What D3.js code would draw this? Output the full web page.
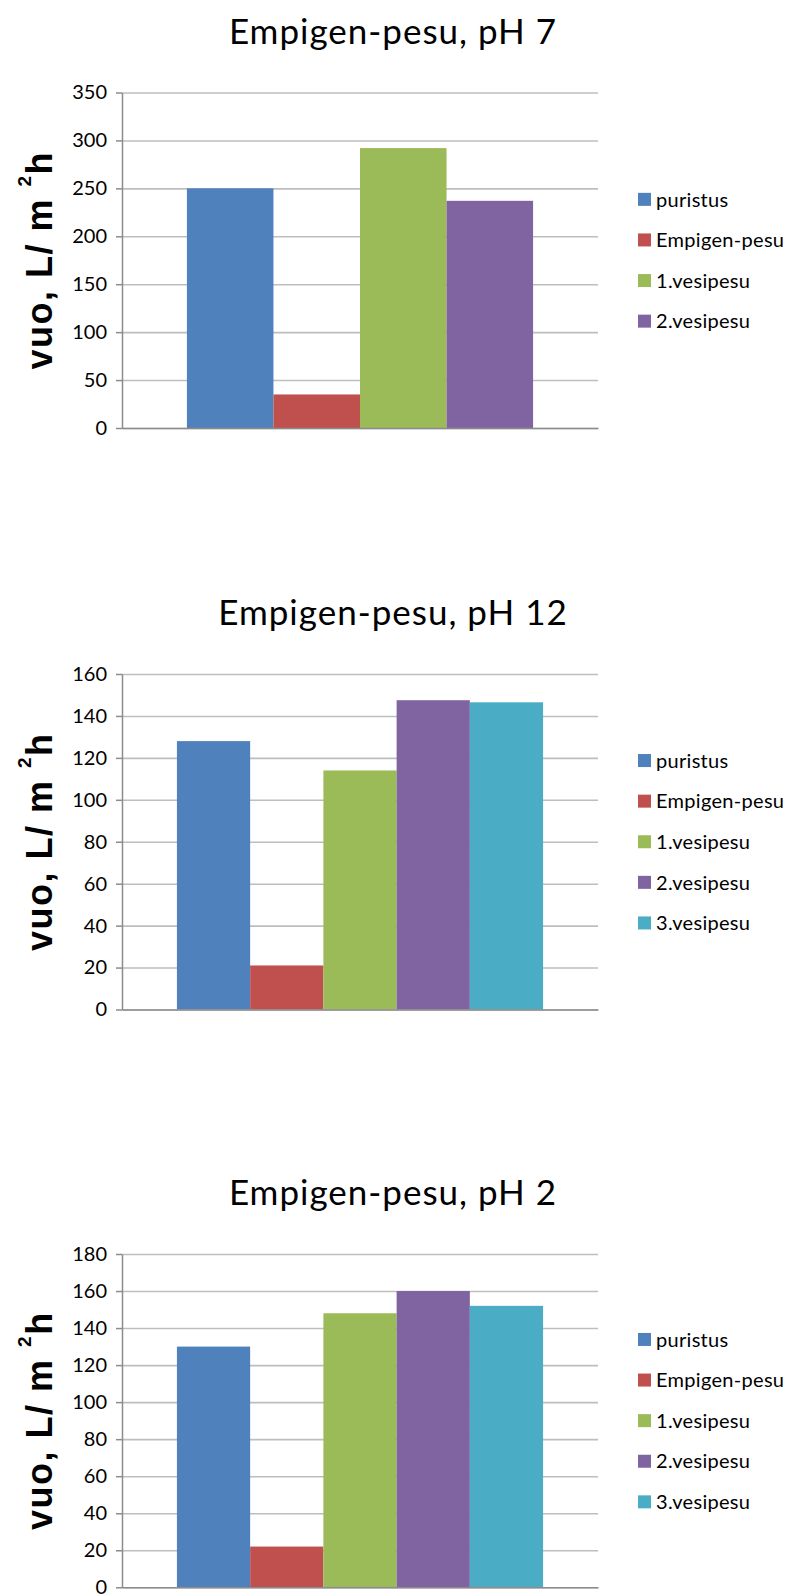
<!DOCTYPE html>
<html>
<head>
<meta charset="utf-8">
<script src="https://cdn.jsdelivr.net/npm/d3@7"></script>
<style>
  body { margin: 0; background: #fff; }
  svg { display: block; }
</style>
</head>
<body>
<div id="viz"></div>
<script>
const width = 788;
const height = 1596;

// data
const seriesNames = ["puristus", "Empigen-pesu", "1.vesipesu", "2.vesipesu", "3.vesipesu"];
const chartTitles = ["Empigen-pesu, pH 7", "Empigen-pesu, pH 12", "Empigen-pesu, pH 2"];
const valuesPH7 = [250, 35, 292, 237];
const valuesPH12 = [128, 21, 114, 147.5, 146.5];
const valuesPH2 = [130, 22, 148, 160, 152];
const yMaxes = [350, 160, 180];
const yTickSteps = [50, 20, 20];
const yLabelMain = "vuo, L/ m ";
const yLabelSup = "2";
const yLabelEnd = "h";

// styles / layout
const seriesColors = ["#4F81BD", "#C0504D", "#9BBB59", "#8064A2", "#4BACC6"];
const plotLeft = 122;
const plotRight = 598;
const plotTops = [92.5, 674, 1254];
const plotHeights = [335.5, 335.5, 333.3];
const legendStep = 40.6;

const svg = d3.select('#viz')
    .append('svg')
        .attr('width', width)
        .attr('height', height);

[valuesPH7, valuesPH12, valuesPH2].forEach((vals, i) => drawChart(i, vals));

function drawChart(i, vals) {
    const names = seriesNames.slice(0, vals.length);
    const top = plotTops[i];
    const h = plotHeights[i];
    const g = svg.append('g').attr('transform', `translate(0, ${top})`);

    const yScale = d3.scaleLinear().domain([0, yMaxes[i]]).range([h, 0]);
    const xScale = d3.scaleBand()
        .domain(names)
        .range([plotLeft, plotRight])
        .paddingInner(0)
        .paddingOuter(0.75);
    const ticks = d3.range(0, yMaxes[i] + 1, yTickSteps[i]);

    // gridlines
    const grid = g.append('g')
        .attr('transform', `translate(${plotLeft}, 0)`)
        .call(d3.axisRight(yScale).tickValues(ticks).tickSize(plotRight - plotLeft).tickFormat(''));
    grid.select('.domain').remove();
    grid.selectAll('line').attr('stroke', '#bebebe').attr('stroke-width', 1.6);

    // bars
    g.selectAll('rect.bar')
        .data(vals)
        .join('rect')
            .attr('class', 'bar')
            .attr('x', (d, j) => xScale(names[j]))
            .attr('width', xScale.bandwidth())
            .attr('y', d => yScale(d))
            .attr('height', d => yScale(0) - yScale(d))
            .attr('fill', (d, j) => seriesColors[j]);

    // category axis (baseline)
    const xAxis = g.append('g')
        .attr('transform', `translate(0, ${yScale(0)})`)
        .call(d3.axisBottom(xScale).tickSize(0).tickSizeOuter(0).tickFormat(''));
    xAxis.select('.domain').attr('stroke', '#8c8c8c').attr('stroke-width', 1.5);

    // value axis
    const yAxis = g.append('g')
        .attr('transform', `translate(${plotLeft}, 0)`)
        .call(d3.axisLeft(yScale).tickValues(ticks).tickSize(6).tickSizeOuter(0).tickPadding(9));
    yAxis.select('.domain').attr('stroke', '#8c8c8c').attr('stroke-width', 1.5);
    yAxis.selectAll('.tick line').attr('stroke', '#8c8c8c').attr('stroke-width', 1.5);
    yAxis.selectAll('.tick text')
        .attr('font-family', 'Lato, sans-serif')
        .attr('font-size', 20)
        .attr('fill', '#000');

    // title
    g.append('text')
        .attr('x', 393)
        .attr('y', -49)
        .attr('text-anchor', 'middle')
        .attr('font-family', 'Lato, sans-serif')
        .attr('font-size', 35)
        .attr('letter-spacing', 1)
        .attr('fill', '#000')
        .text(chartTitles[i]);

    // y label
    const yl = g.append('text')
        .attr('transform', `translate(52, ${h / 2}) rotate(-90)`)
        .attr('text-anchor', 'middle')
        .attr('font-family', '"Liberation Sans", Arial, sans-serif')
        .attr('font-weight', 'bold')
        .attr('font-size', 36)
        .attr('letter-spacing', 1.5)
        .attr('fill', '#000');
    yl.append('tspan').text(yLabelMain);
    yl.append('tspan').attr('font-size', 19).attr('dy', -21).text(yLabelSup);
    yl.append('tspan').attr('dy', 21).text(yLabelEnd);

    // legend
    const legend = g.append('g');
    const items = legend.selectAll('g')
        .data(names)
        .join('g')
            .attr('transform', (d, j) => `translate(638, ${h / 2 + (j - (names.length - 1) / 2) * legendStep})`);
    items.append('rect')
        .attr('x', 0)
        .attr('y', -6.5)
        .attr('width', 13)
        .attr('height', 13)
        .attr('fill', (d, j) => seriesColors[j]);
    items.append('text')
        .attr('x', 18)
        .attr('dy', '0.36em')
        .attr('font-family', 'Lato, sans-serif')
        .attr('font-size', 20)
        .attr('letter-spacing', 0.3)
        .attr('fill', '#000')
        .text(d => d);
}
</script>
</body>
</html>
